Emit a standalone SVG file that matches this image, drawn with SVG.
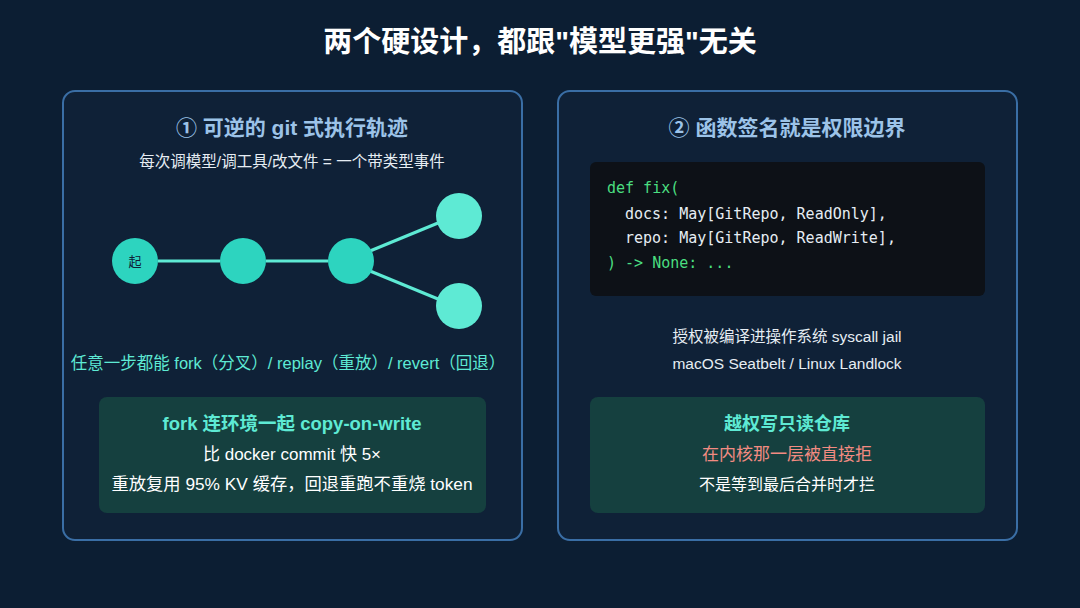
<svg xmlns="http://www.w3.org/2000/svg" width="1080" height="608" viewBox="0 0 1080 608">
<style>
text{font-family:"Liberation Sans","Noto Sans CJK SC",sans-serif;text-anchor:middle}
.panel{fill:#0f2137;stroke:#3a6ea5;stroke-width:2}
.h{font-size:21px;font-weight:bold;fill:#9cc3e8}
.s{font-size:15.5px;fill:#e6edf3}
.c{fill:#2dd4bf}.l{fill:#5eead4}
.edge{stroke:#5eead4;stroke-width:3}
.box{fill:#15403f}
.code{font-family:"DejaVu Sans Mono","Liberation Mono",monospace;font-size:15px;text-anchor:start;fill:#e6edf3}
.g{fill:#4ade80}
</style>
<rect width="1080" height="608" fill="#0c1e33"/>
<text x="540" y="52" font-size="29" font-weight="bold" fill="#fff">两个硬设计，都跟"模型更强"无关</text>
<g id="panel1">
<rect class="panel" x="63" y="91" width="459" height="449" rx="12"/>
<text class="h" x="292" y="135">① 可逆的 git 式执行轨迹</text>
<text class="s" x="292" y="167">每次调模型/调工具/改文件 = 一个带类型事件</text>
</g>
<g id="connectors">
<line class="edge" x1="158" y1="261" x2="220" y2="261"/>
<line class="edge" x1="266" y1="261" x2="328" y2="261"/>
<line class="edge" x1="370" y1="251" x2="438" y2="223"/>
<line class="edge" x1="370" y1="271" x2="438" y2="299"/>
</g>
<g id="n1"><circle class="c" cx="135" cy="261" r="23"/><text x="135" y="266" font-size="13" fill="#0f2137">起</text></g>
<g id="n2"><circle class="c" cx="243" cy="261" r="23"/></g>
<g id="n3"><circle class="c" cx="351" cy="261" r="23"/></g>
<g id="n4"><circle class="l" cx="459" cy="216" r="23"/></g>
<g id="n5"><circle class="l" cx="459" cy="306" r="23"/></g>
<text x="288" y="369" font-size="16.5" fill="#5eead4">任意一步都能 fork（分叉）/ replay（重放）/ revert（回退）</text>
<g id="box1">
<rect class="box" x="99" y="397" width="387" height="116" rx="8"/>
<text x="292" y="430" font-size="18.5" font-weight="bold" fill="#5eead4">fork 连环境一起 copy-on-write</text>
<text x="292" y="460" font-size="17" fill="#fff">比 docker commit 快 5×</text>
<text x="292" y="490" font-size="17.3" fill="#fff">重放复用 95% KV 缓存，回退重跑不重烧 token</text>
</g>
<g id="panel2">
<rect class="panel" x="558" y="91" width="459" height="449" rx="12"/>
<text class="h" x="787" y="135">② 函数签名就是权限边界</text>
</g>
<g id="code">
<rect x="590" y="162" width="395" height="134" rx="6" fill="#0d1117"/>
<text class="code g" x="607" y="193">def fix(</text>
<text class="code" x="625" y="219">docs: May[GitRepo, ReadOnly],</text>
<text class="code" x="625" y="243">repo: May[GitRepo, ReadWrite],</text>
<text class="code g" x="607" y="268">) -&gt; None: ...</text>
</g>
<text class="s" x="787" y="342">授权被编译进操作系统 syscall jail</text>
<text class="s" x="787" y="369">macOS Seatbelt / Linux Landlock</text>
<g id="box2">
<rect class="box" x="590" y="397" width="395" height="116" rx="8"/>
<text x="787" y="430" font-size="18" font-weight="bold" fill="#5eead4">越权写只读仓库</text>
<text x="787" y="460" font-size="17" fill="#f28b82">在内核那一层被直接拒</text>
<text x="787" y="490" font-size="16" fill="#fff">不是等到最后合并时才拦</text>
</g>
</svg>
